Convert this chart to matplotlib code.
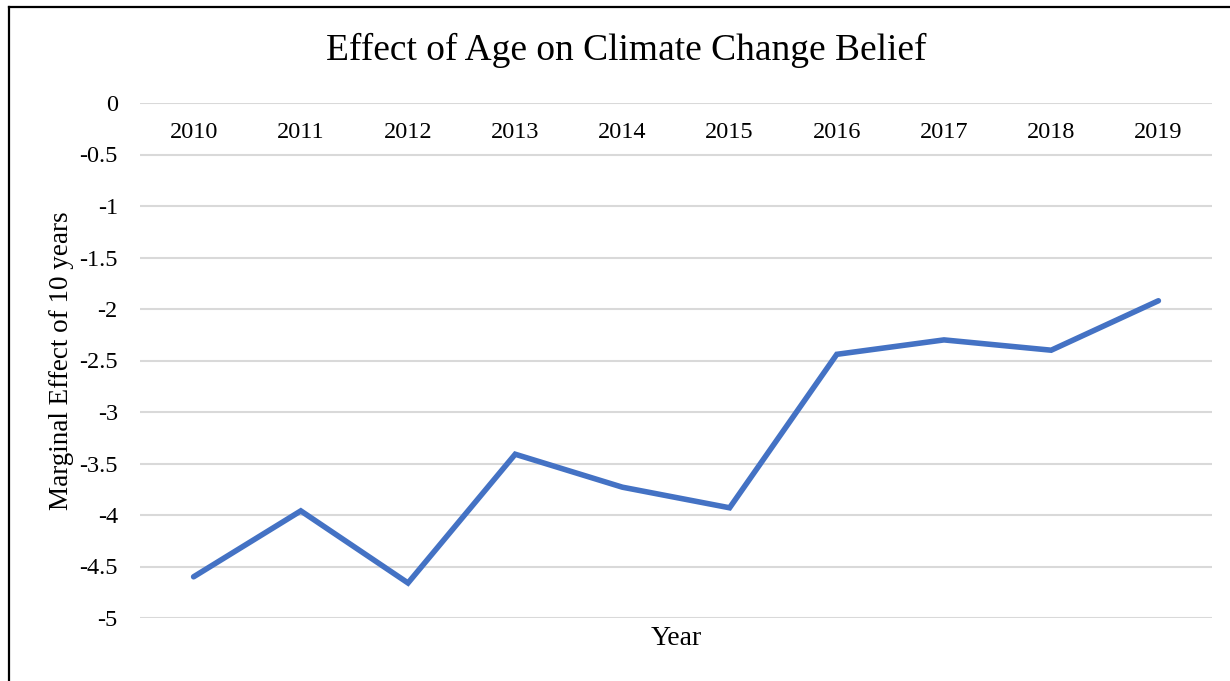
import numpy as np
import matplotlib
matplotlib.use("Agg")
import matplotlib.pyplot as plt
import matplotlib.lines as lines

plt.rcParams['font.family'] = ['Liberation Serif', 'DejaVu Serif']

years = ['2010', '2011', '2012', '2013', '2014', '2015', '2016', '2017', '2018', '2019']
effect = [-4.60, -3.96, -4.66, -3.41, -3.73, -3.93, -2.44, -2.30, -2.40, -1.92]
yticks = [0, -0.5, -1, -1.5, -2, -2.5, -3, -3.5, -4, -4.5, -5]

W, H = 1230, 681
fig = plt.figure(figsize=(W / 100, H / 100), dpi=100)
ax = fig.add_axes([140 / W, 1 - 618 / H, (1212 - 140) / W, (618 - 103) / H])

x = np.arange(len(years))
ax.plot(x, effect, color='#4472C4', linewidth=4.0, solid_capstyle='round',
        solid_joinstyle='miter', zorder=3)

ax.set_xlim(-0.5, len(years) - 0.5)
ax.set_ylim(-5, 0)
ax.set_yticks(yticks)
ax.set_yticklabels([('%g' % v) for v in yticks])
ax.grid(axis='y', color='#D9D9D9', linewidth=1.5)
ax.set_axisbelow(True)
for s in ax.spines.values():
    s.set_visible(False)

# category labels sit just under the zero line
ax.set_xticks(x)
ax.set_xticklabels(years)
ax.tick_params(axis='x', bottom=False, labelbottom=False, top=False,
               labeltop=True, pad=-32, labelsize=17.5)
ax.tick_params(axis='y', length=0, pad=16, labelsize=17.5)

ax.xaxis.set_label_position('bottom')
ax.set_xlabel('Year', fontsize=20, labelpad=6)
ax.set_ylabel('Marginal Effect of 10 years', fontsize=19.5, labelpad=4)

fig.text(626 / W, 1 - 50 / H, 'Effect of Age on Climate Change Belief',
         ha='center', va='center', fontsize=27)

# chart border (right and bottom edges fall outside the picture)
fig.add_artist(lines.Line2D([9 / W, 9 / W], [0, 1 - 7 / H], color='black',
                            linewidth=1.6, transform=fig.transFigure))
fig.add_artist(lines.Line2D([9 / W, 1], [1 - 7 / H, 1 - 7 / H], color='black',
                            linewidth=1.6, transform=fig.transFigure))

fig.savefig('out.png', dpi=100)
